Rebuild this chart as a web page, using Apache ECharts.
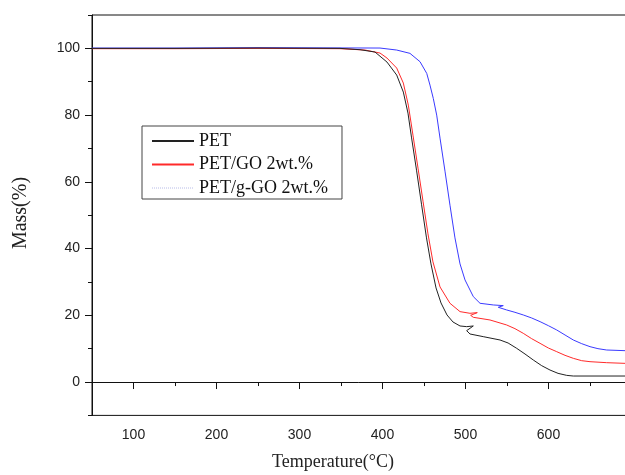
<!DOCTYPE html>
<html>
<head>
<meta charset="utf-8">
<script src="https://cdn.jsdelivr.net/npm/echarts@6/dist/echarts.min.js"></script>
<style>html,body{margin:0;padding:0;background:#fff;}#c{width:625px;height:475px;}</style>
</head>
<body>
<div id="c"></div>
<script>
// Tick labels
var xTickLabels = [100, 200, 300, 400, 500, 600];
var xMajorTicks = [100, 200, 300, 400, 500, 600, 700];
var xMinorTicks = [50, 150, 250, 350, 450, 550, 650];
var yTickLabels = [0, 20, 40, 60, 80, 100];
var yMinorTicks = [-10, 10, 30, 50, 70, 90, 110];

var seriesNames = ['PET', 'PET/GO 2wt.%', 'PET/g-GO 2wt.%'];

// [temperature (°C), mass (%)]
var petData = [
  [50,100.0],[150,100.0],[250,100.1],[348.8,100.0],[372.9,99.6],[391.0,98.9],[405.4,95.9],[417.1,92.0],
  [425.1,86.9],[430.7,80.6],[434.9,73.4],[441.0,63.5],[447.0,53.3],[453.0,43.2],[458.4,35.4],[464.5,28.2],
  [470.5,23.7],[477.7,20.1],[484.9,18.0],[493.4,16.8],[501.4,16.6],[509.4,16.8],[501.4,15.4],[505.4,14.4],
  [521.4,13.6],[541.6,12.6],[551.3,11.7],[561.7,10.1],[571.7,8.4],[581.7,6.6],[591.8,4.9],[601.8,3.6],
  [611.5,2.6],[621.9,2.0],[629.9,1.8],[692.2,1.8]
];
var petGoData = [
  [50,99.9],[150,99.9],[250,100.0],[348.8,99.9],[378.9,99.5],[397.0,98.6],[405.4,97.1],[417.1,94.1],
  [425.1,89.6],[431.1,83.0],[436.7,74.0],[442.8,64.1],[448.8,54.2],[454.8,44.4],[460.8,36.0],[469.3,28.5],
  [481.3,23.6],[493.4,21.1],[505.4,20.6],[514.2,20.8],[506.2,20.0],[509.4,19.4],[529.5,18.6],[549.6,17.1],
  [559.6,16.0],[569.6,14.6],[579.7,13.0],[589.8,11.6],[599.8,10.2],[609.9,9.1],[619.9,8.0],[629.9,7.1],
  [640.0,6.4],[650.0,6.1],[670.1,5.8],[692.2,5.6]
];
var petGgoData = [
  [50,100.1],[150,100.1],[250,100.2],[397.0,100.1],[417.1,99.5],[433.1,98.5],[445.2,96.0],[453.3,92.5],
  [457.2,89.0],[461.2,85.0],[465.3,80.0],[469.3,73.1],[475.3,63.2],[481.3,53.0],[487.3,43.2],[493.4,35.4],
  [499.4,30.6],[509.4,25.6],[517.5,23.6],[533.5,23.1],[545.5,22.9],[539.5,22.4],[549.6,21.6],[559.6,20.9],
  [569.6,20.1],[579.7,19.2],[589.8,18.1],[599.8,16.9],[609.9,15.6],[619.9,14.1],[629.9,12.6],[640.0,11.5],
  [650.0,10.6],[659.6,10.0],[670.1,9.6],[692.2,9.4]
];

var chart = echarts.init(document.getElementById('c'), null, {renderer: 'canvas'});
var axisText = {color: '#222', fontFamily: 'Liberation Sans, Arial, sans-serif', fontSize: 14};
var serif = 'Liberation Serif, Times New Roman, serif';
var option = {
  animation: false,
  backgroundColor: '#fff',
  grid: {left: 92, top: 15, width: 539.5, height: 400.4, outerBoundsMode: 'none', containLabel: false,
         show: true, borderColor: '#111', borderWidth: 1, backgroundColor: 'transparent'},
  legend: {
    orient: 'vertical', left: 142, top: 126,
    padding: [5, 14, 1, 9], itemGap: 3.5, itemWidth: 42, itemHeight: 14,
    borderColor: '#444', borderWidth: 1, backgroundColor: '#fff',
    itemStyle: {opacity: 0},
    textStyle: {fontFamily: serif, fontSize: 18, color: '#111', lineHeight: 20},
    data: [
      {name: seriesNames[0]},
      {name: seriesNames[1]},
      {name: seriesNames[2], lineStyle: {color: '#b8bce8', type: 'dotted', width: 1}}
    ]
  },
  xAxis: [
    {type: 'value', min: 50, max: 700, position: 'bottom',
     axisLine: {show: true, lineStyle: {color: '#111', width: 1}},
     axisTick: {show: true, inside: false, length: 7, customValues: xMajorTicks, lineStyle: {color: '#111'}},
     axisLabel: {show: true, margin: 13, customValues: xTickLabels, ...axisText},
     splitLine: {show: false}},
    {type: 'value', min: 50, max: 700, position: 'bottom', gridIndex: 0,
     axisLine: {show: false},
     axisTick: {show: true, inside: false, length: 4, customValues: xMinorTicks, lineStyle: {color: '#111'}},
     axisLabel: {show: false}, splitLine: {show: false}}
  ],
  yAxis: [
    {type: 'value', min: -10, max: 110, position: 'left',
     axisLine: {show: true, lineStyle: {color: '#111', width: 1}},
     axisTick: {show: true, inside: false, length: 7, customValues: yTickLabels, lineStyle: {color: '#111'}},
     axisLabel: {show: true, margin: 12, customValues: yTickLabels, ...axisText},
     splitLine: {show: false}},
    {type: 'value', min: -10, max: 110, position: 'left', gridIndex: 0,
     axisLine: {show: false},
     axisTick: {show: true, inside: false, length: 4, customValues: yMinorTicks, lineStyle: {color: '#111'}},
     axisLabel: {show: false}, splitLine: {show: false}}
  ],
  series: [
    {name: seriesNames[2], type: 'line', data: petGgoData, symbol: 'none', color: '#3a3aff', lineStyle: {width: 1, color: '#3a3aff'}},
    {name: seriesNames[1], type: 'line', data: petGoData, symbol: 'none', color: '#ff2a2a', lineStyle: {width: 1, color: '#ff2a2a'}},
    {name: seriesNames[0], type: 'line', data: petData, symbol: 'none', color: '#222', lineStyle: {width: 1, color: '#222'}}
  ],
  graphic: [
    {type: 'text', x: 21, y: 213, rotation: Math.PI / 2,
     style: {text: 'Mass(%)', fontFamily: serif, fontSize: 20, fill: '#222', align: 'center', verticalAlign: 'middle'}},
    {type: 'text', x: 333, y: 462,
     style: {text: 'Temperature(°C)', fontFamily: serif, fontSize: 18, fill: '#222', align: 'center', verticalAlign: 'middle'}}
  ]
};
chart.setOption(option);
</script>
</body>
</html>
